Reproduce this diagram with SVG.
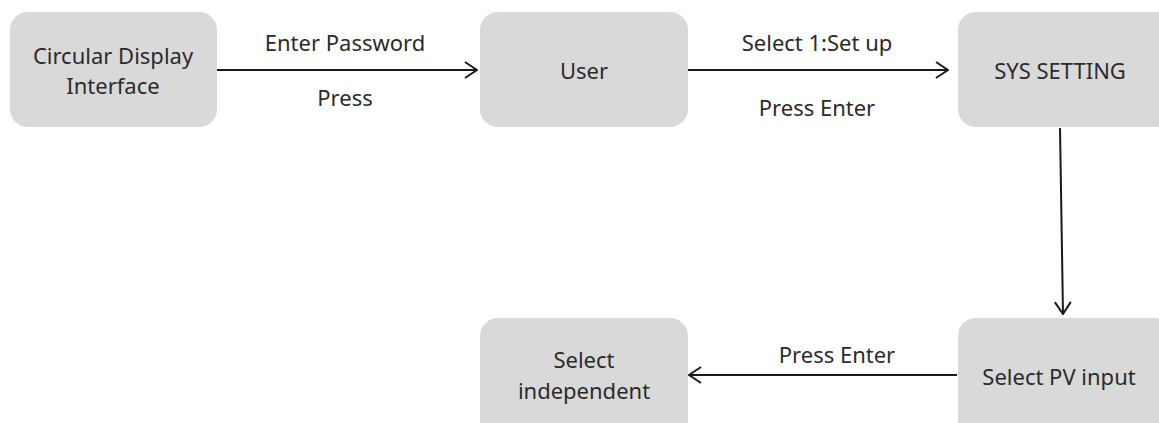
<svg xmlns="http://www.w3.org/2000/svg" width="1159" height="423" viewBox="0 0 1159 423">
<defs>
<style>
.box{fill:#d9d9d9;}
.t{font-family:"Noto Sans","Liberation Sans",sans-serif;font-size:22px;fill:#2b2b2b;text-anchor:middle;dominant-baseline:central;}
.c{stroke:#1a1a1a;stroke-width:2;fill:none;}
</style>
<marker id="ah" viewBox="0 0 14 18" refX="13" refY="9" markerWidth="14" markerHeight="18" markerUnits="userSpaceOnUse" orient="auto">
<path d="M1,1 L13,9 L1,17" fill="none" stroke="#1a1a1a" stroke-width="2"/>
</marker>
</defs>
<rect width="1159" height="423" fill="#ffffff"/>
<g id="n1"><rect class="box" x="10" y="12" width="207" height="115" rx="18"/><text class="t" x="113" y="55">Circular Display</text><text class="t" x="113" y="85">Interface</text></g>
<g id="n2"><rect class="box" x="480" y="12" width="208" height="115" rx="18"/><text class="t" x="584" y="70">User</text></g>
<g id="n3"><rect class="box" x="958" y="12" width="215" height="115" rx="18"/><text class="t" x="1060" y="70">SYS SETTING</text></g>
<g id="n4"><rect class="box" x="958" y="318" width="215" height="120" rx="18"/><text class="t" x="1059" y="376">Select PV input</text></g>
<g id="n5"><rect class="box" x="480" y="318" width="208" height="120" rx="18"/><text class="t" x="584" y="359">Select</text><text class="t" x="584" y="390">independent</text></g>
<g id="connectors">
<line class="c" x1="217" y1="70" x2="477" y2="70" marker-end="url(#ah)"/>
<text class="t" x="345" y="42">Enter Password</text>
<text class="t" x="345" y="97">Press</text>
<line class="c" x1="688" y1="70" x2="948" y2="70" marker-end="url(#ah)"/>
<text class="t" x="817" y="42">Select 1:Set up</text>
<text class="t" x="817" y="107">Press Enter</text>
<line class="c" x1="1060" y1="128" x2="1063" y2="314" marker-end="url(#ah)"/>
<line class="c" x1="957" y1="375" x2="689" y2="375" marker-end="url(#ah)"/>
<text class="t" x="837" y="354">Press Enter</text>
</g>
</svg>
